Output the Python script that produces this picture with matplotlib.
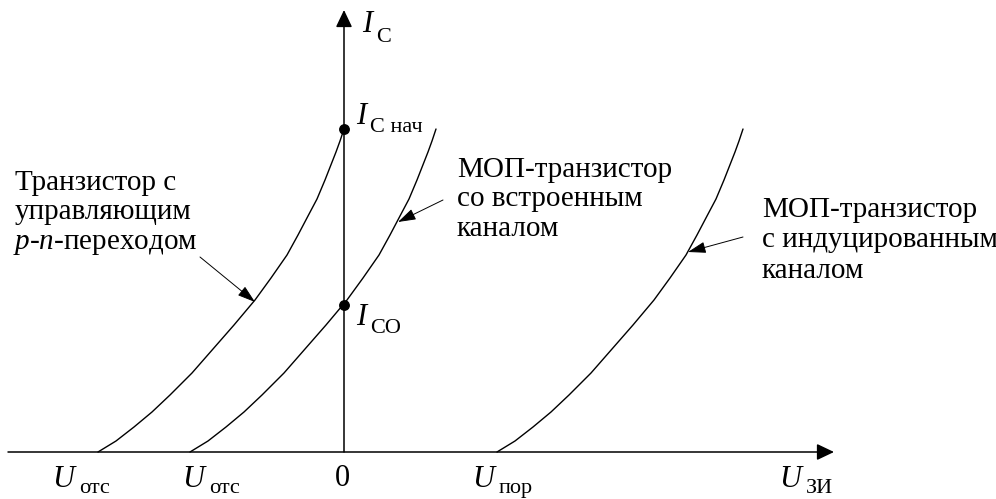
import matplotlib
matplotlib.use("Agg")
import matplotlib.pyplot as plt
from matplotlib.font_manager import FontProperties, findfont

# ---- data (arbitrary units, origin at the axes crossing) ----
jfet_u = [-2.46, -2.28, -2.10, -1.92, -1.74, -1.52, -1.31, -1.10, -0.89,
          -0.73, -0.57, -0.46, -0.36, -0.27, -0.19, -0.08, -0.04, 0.00]
jfet_i = [0.00, 0.11, 0.25, 0.40, 0.57, 0.79, 1.03, 1.27, 1.52,
          1.74, 1.97, 2.17, 2.36, 2.53, 2.72, 3.00, 3.11, 3.23]

builtin_u = [-1.54, -1.36, -1.18, -1.00, -0.82, -0.60, -0.39, -0.18, 0.03,
             0.19, 0.35, 0.46, 0.56, 0.65, 0.73, 0.84, 0.88, 0.92]
builtin_i = [0.00, 0.11, 0.25, 0.40, 0.57, 0.79, 1.03, 1.27, 1.52,
             1.74, 1.97, 2.17, 2.36, 2.53, 2.72, 3.00, 3.11, 3.23]

induced_u = [1.53, 1.71, 1.89, 2.07, 2.25, 2.47, 2.68, 2.89, 3.10,
             3.26, 3.42, 3.53, 3.63, 3.72, 3.80, 3.91, 3.95, 3.99]
induced_i = [0.00, 0.11, 0.25, 0.40, 0.57, 0.79, 1.03, 1.27, 1.52,
             1.74, 1.97, 2.17, 2.36, 2.53, 2.72, 3.00, 3.11, 3.23]

marked_u = [0.0, 0.0]
marked_i = [3.23, 1.47]

W, H = 996, 499
plt.rcParams['font.family'] = ['Liberation Serif', 'DejaVu Serif']
plt.rcParams['mathtext.fontset'] = 'custom'
plt.rcParams['mathtext.rm'] = 'Liberation Serif'
plt.rcParams['mathtext.it'] = 'Liberation Serif:italic'

REG = findfont(FontProperties(family='Liberation Serif', style='normal'))
ITA = findfont(FontProperties(family='Liberation Serif', style='italic'))

def fp(size, italic=False):
    return FontProperties(fname=ITA if italic else REG, size=size)

fig = plt.figure(figsize=(W / 100, H / 100), dpi=100)
ax = fig.add_axes([0, 0, 1, 1])
ax.set_xlim(-3.44, 6.52)
ax.set_ylim(-0.47, 4.52)
ax.axis('off')

def P(px, py):
    return (px / W, 1 - py / H)

# axes with arrows
ax.annotate('', xy=(4.90, 0), xytext=(-3.36, 0), xycoords='data',
            arrowprops=dict(arrowstyle='-|>,head_length=1.05,head_width=0.5',
                            lw=1.1, color='black', shrinkA=0, shrinkB=0))
ax.annotate('', xy=(0, 4.42), xytext=(0, 0), xycoords='data',
            arrowprops=dict(arrowstyle='-|>,head_length=1.05,head_width=0.5',
                            lw=1.1, color='black', shrinkA=0, shrinkB=0))

# curves
for u, i in [(jfet_u, jfet_i), (builtin_u, builtin_i), (induced_u, induced_i)]:
    ax.plot(u, i, color='black', lw=1.0, solid_capstyle='round',
            solid_joinstyle='round')
ax.plot(marked_u, marked_i, 'o', color='black', ms=6.8)

# pointer arrows
def pointer(x0, y0, x1, y1):
    ax.annotate('', xy=P(x1, y1), xytext=P(x0, y0), xycoords='figure fraction',
                textcoords='figure fraction',
                arrowprops=dict(arrowstyle='-|>,head_length=1.1,head_width=0.35',
                                lw=0.7, color='black', shrinkA=0, shrinkB=0))

pointer(200, 257, 255, 302)
pointer(443, 200, 398, 222)
pointer(743, 237, 688, 252)

# curve labels
LS = 21
def txt(px, py, s, size=LS):
    fig.text(*P(px, py), s, fontproperties=fp(size), ha='left', va='baseline')

txt(15, 190, 'Транзистор с')
txt(15, 219, 'управляющим')
txt(13, 249, '$p$-$n$-переходом')

txt(457, 177, 'МОП-транзистор')
txt(457, 206, 'со встроенным')
txt(457, 236, 'каналом')

txt(762, 217, 'МОП-транзистор')
txt(762, 247, 'с индуцированным')
txt(762, 278, 'каналом')

# axis / point labels
def sym(px, py, main, sub, sub_dx, sub_dy, msize=22, ssize=16):
    fig.text(*P(px, py), main, fontproperties=fp(msize, True),
             ha='left', va='baseline')
    fig.text(*P(px + sub_dx, py + sub_dy), sub, fontproperties=fp(ssize),
             ha='left', va='baseline')

sym(362, 32, 'I', 'C', 14, 10)
sym(356, 124, 'I', 'C нач', 14, 8)
sym(356, 325, 'I', 'CO', 14, 8)

sym(52, 487, 'U', 'отс', 27, 6)
sym(182, 487, 'U', 'отс', 27, 6)
sym(472, 487, 'U', 'пор', 27, 6)
sym(779, 487, 'U', 'ЗИ', 27, 6)
fig.text(*P(335, 486), '0', fontproperties=fp(22), ha='left', va='baseline')

fig.savefig('out.png', dpi=100, facecolor='white')
